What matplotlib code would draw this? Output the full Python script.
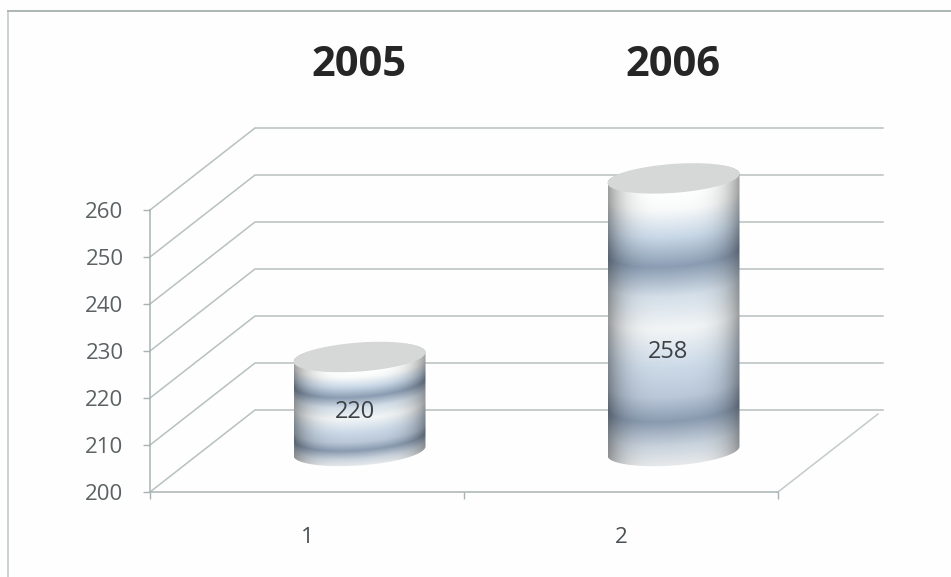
import matplotlib
matplotlib.use('Agg')
import matplotlib.pyplot as plt
import numpy as np
from matplotlib.colors import LinearSegmentedColormap
from matplotlib.lines import Line2D
from matplotlib.patches import Polygon

plt.rcParams['font.family'] = ['Open Sans', 'DejaVu Sans']

# chart values
categories = [1, 2]
years = ['2005', '2006']
values = [220, 258]
label_heights = [217.0, 229.8]
y_ticks = [200, 210, 220, 230, 240, 250, 260]
x_edges = [0.5, 1.5, 2.5]

W, H = 951, 577
fig = plt.figure(figsize=(W / 100, H / 100), dpi=100, facecolor='#fefefe')
# front plane of the fake 3d box, in pixels: x 150..778, y 492..210
ax = fig.add_axes([150 / W, 1 - 492 / H, 628 / W, 282 / H])
ax.set_facecolor('none')
ax.set_xlim(0.5, 2.5)
ax.set_ylim(200, 260)

px_x = 2 / 628   # x units per pixel
px_y = 60 / 282  # y units per pixel
depth_x = 105 * px_x
depth_y = 82 * px_y

line_col = '#b8c0c0'

# walls and floor
for v in y_ticks:
    ax.plot([0.5, 0.5 + depth_x, 2.5 + depth_x], [v, v + depth_y, v + depth_y],
            color=line_col, lw=1.1, clip_on=False, zorder=1, solid_joinstyle='miter')
ax.plot([2.5, 2.5 + 100 * px_x], [200, 200 + 78 * px_y], color='#c4caca', lw=1.1,
        clip_on=False, zorder=1)

for s in ['top', 'right']:
    ax.spines[s].set_visible(False)
for s in ['left', 'bottom']:
    ax.spines[s].set_color('#a9b3b3')
    ax.spines[s].set_linewidth(1.1)

ax.set_yticks(y_ticks)
ax.set_xticks(x_edges)
ax.set_xticklabels([])
ax.set_xticks(categories, labels=[str(c) for c in categories], minor=True)
ax.tick_params(axis='y', length=5, width=1, color='#a9b3b3', pad=14,
               labelsize=16, labelcolor='#5c6163')
ax.tick_params(axis='x', which='major', length=5, width=1, color='#a9b3b3')
ax.tick_params(axis='x', which='minor', length=0, pad=25.5, labelsize=16,
               labelcolor='#4a4f52')

# vertical banding of the cylinder side, bottom to top
bands = LinearSegmentedColormap.from_list('bands', [
    (0.00, '#e6e9eb'), (0.07, '#c9d3dd'), (0.16, '#8a9bb0'), (0.25, '#b9c7d8'),
    (0.36, '#ccdae8'), (0.50, '#f2f5f6'), (0.62, '#d4dfe9'), (0.73, '#8b9db3'),
    (0.84, '#c9d8e7'), (0.94, '#f8fafa'), (1.00, '#ffffff')])


def cylinder(cx, value):
    a = 66 * px_x
    b = 14.5 * px_y
    tilt = 0.07 * 66 * px_y  # ellipses lean up to the right
    base = 200 + depth_y / 2
    top = base + (value - 200)

    # side image
    u = np.linspace(-1, 1, 260)
    y0 = base - b - tilt - 1
    y1 = top + b + tilt + 1
    U, Y = np.meshgrid(u, np.linspace(y0, y1, 500))
    front = -b * np.sqrt(1 - U ** 2) + tilt * U
    v = np.clip((Y - base - front) / (top - base), 0, 1)
    rgb = bands(v)[:, :, :3]
    shade = 1 - 0.38 * np.abs(U) ** 4
    rgb = rgb * shade[:, :, None]
    im = ax.imshow(rgb, extent=[cx - a, cx + a, y0, y1], origin='lower',
                   aspect='auto', zorder=2, interpolation='bilinear')

    t = np.linspace(0, 2 * np.pi, 200)
    ex = np.cos(t)
    ey = b * np.sin(t) + tilt * ex
    lower = t > np.pi
    upper = t <= np.pi
    outline = np.vstack([
        np.c_[cx + a * ex[lower], base + ey[lower]],
        np.c_[cx + a * ex[upper], top + ey[upper]],
    ])
    clip = Polygon(outline, closed=True, transform=ax.transData)
    im.set_clip_path(clip)
    im.set_clip_box(fig.bbox)

    ax.add_patch(Polygon(np.c_[cx + a * ex, top + ey], closed=True, facecolor='#d6d8d8',
                         edgecolor='none', clip_on=False, zorder=3))


for c, val in zip(categories, values):
    cylinder(c + depth_x / 2, val)

# imshow moves the limits
ax.set_xlim(0.5, 2.5)
ax.set_ylim(200, 260)

for c, val, h in zip(categories, values, label_heights):
    ax.text(c + depth_x / 2 - 5 * px_x, h, str(val), ha='center', va='center', fontsize=17,
            color='#3c4145', zorder=4)

for c, yr in zip(categories, years):
    ax.text(c + depth_x / 2, 200 + (492 - 66) * px_y, yr, ha='center', va='center',
            fontsize=30, fontweight='bold', color='#262626', clip_on=False)

# outer chart frame, only left and top survive in the scan
fig.add_artist(Line2D([8 / W, 8 / W], [0, 1 - 11 / H], color='#c4caca', lw=1.2))
fig.add_artist(Line2D([8 / W, 1], [1 - 11 / H, 1 - 11 / H], color='#adb5b5', lw=1.4))

plt.savefig('out.png', dpi=100)
